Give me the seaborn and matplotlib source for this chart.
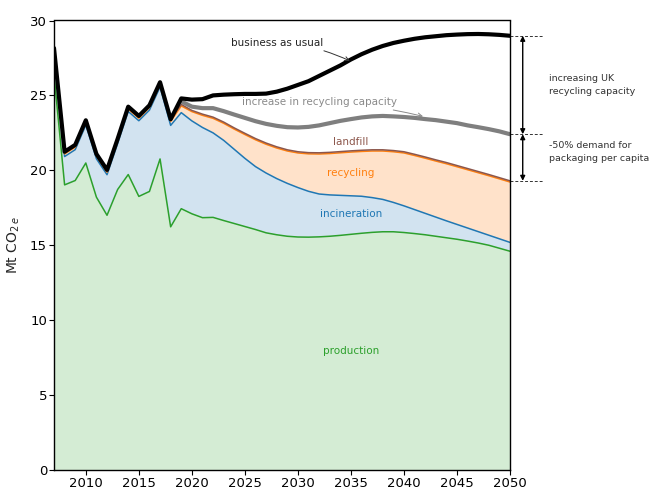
import numpy as np
import pandas as pd
import matplotlib
matplotlib.use("Agg")
import matplotlib.pyplot as plt
import seaborn as sns

years = list(range(2007, 2051))

# stacked levels (Mt CO2e)
production = [26.4, 19.03, 19.32, 20.49, 18.21, 17.0, 18.72, 19.72, 18.26, 18.59, 20.76, 16.23, 17.44,
              17.1, 16.84, 16.86, 16.65, 16.45, 16.25, 16.05, 15.83, 15.7, 15.6, 15.55, 15.54, 15.56,
              15.6, 15.66, 15.73, 15.8, 15.86, 15.9, 15.9, 15.85, 15.78, 15.7, 15.6, 15.5, 15.4,
              15.28, 15.15, 15.0, 14.8, 14.6]
incineration_top = [27.84, 20.92, 21.38, 23.02, 20.77, 19.71, 21.78, 23.93, 23.31, 24.02, 25.56, 23.0, 23.85,
                    23.3, 22.86, 22.5, 22.0, 21.4, 20.8, 20.25, 19.82, 19.45, 19.13, 18.85, 18.6, 18.42,
                    18.36, 18.33, 18.3, 18.27, 18.18, 18.06, 17.86, 17.63, 17.38, 17.13, 16.88, 16.63, 16.39,
                    16.15, 15.91, 15.67, 15.43, 15.19]
recycling_top = [28.0, 21.1, 21.55, 23.2, 20.95, 19.88, 21.95, 24.1, 23.48, 24.2, 25.73, 23.27, 24.3,
                 23.92, 23.67, 23.47, 23.14, 22.75, 22.39, 22.04, 21.74, 21.49, 21.29, 21.16, 21.1, 21.09,
                 21.12, 21.17, 21.22, 21.26, 21.29, 21.29, 21.24, 21.16, 20.99, 20.81, 20.62, 20.44, 20.24,
                 20.04, 19.84, 19.64, 19.43, 19.22]
landfill_top = [28.16, 21.24, 21.7, 23.34, 21.09, 20.03, 22.1, 24.25, 23.63, 24.34, 25.88, 23.41, 24.4,
                24.0, 23.75, 23.55, 23.22, 22.83, 22.47, 22.12, 21.82, 21.57, 21.37, 21.24, 21.18, 21.17,
                21.2, 21.25, 21.3, 21.34, 21.37, 21.37, 21.32, 21.24, 21.07, 20.89, 20.7, 20.52, 20.32,
                20.12, 19.92, 19.72, 19.51, 19.3]
business_as_usual = [28.16, 21.24, 21.7, 23.34, 21.09, 20.03, 22.1, 24.25, 23.63, 24.34, 25.88, 23.41, 24.8,
                     24.72, 24.75, 25.0, 25.05, 25.08, 25.1, 25.1, 25.12, 25.25, 25.45, 25.7, 25.95, 26.3,
                     26.65, 27.0, 27.4, 27.75, 28.05, 28.3, 28.5, 28.65, 28.78, 28.88, 28.95, 29.02, 29.06,
                     29.09, 29.1, 29.08, 29.04, 28.98]
capacity_years = list(range(2019, 2051))
recycling_capacity = [24.6, 24.25, 24.15, 24.15, 23.95, 23.72, 23.5, 23.28, 23.1, 22.97, 22.88, 22.86,
                      22.9, 23.0, 23.15, 23.3, 23.42, 23.53, 23.6, 23.63, 23.6, 23.56, 23.5, 23.42,
                      23.35, 23.25, 23.15, 23.0, 22.88, 22.75, 22.6, 22.41]

sns.set_style("ticks")
plt.rcParams['font.family'] = ['DejaVu Sans']

fig = plt.figure(figsize=(6.51, 4.91), dpi=100)
bottom_px, top_px = 470.0, 20.5
ax = fig.add_axes([54/651, (491-bottom_px)/491, (510-54)/651, (bottom_px-top_px)/491])

C = sns.color_palette("tab10")
green, blue, orange, brown, gray = C[2], C[0], C[1], C[5], C[7]

ax.fill_between(years, 0, production, color=green, alpha=0.2, lw=0)
ax.fill_between(years, production, incineration_top, color=blue, alpha=0.2, lw=0)
ax.fill_between(years, incineration_top, recycling_top, color=orange, alpha=0.22, lw=0)
ax.fill_between(years, recycling_top, landfill_top, color=brown, alpha=0.2, lw=0)

sns.lineplot(x=years, y=production, color=green, lw=1.1, ax=ax)
sns.lineplot(x=years, y=incineration_top, color=blue, lw=1.1, ax=ax)
sns.lineplot(x=years, y=recycling_top, color=orange, lw=1.1, ax=ax)
sns.lineplot(x=years, y=landfill_top, color=brown, lw=1.1, ax=ax)
sns.lineplot(x=capacity_years, y=recycling_capacity, color=gray, lw=3, ax=ax)
sns.lineplot(x=years, y=business_as_usual, color='black', lw=3, ax=ax)

ax.set_xlim(2007, 2050)
ax.set_ylim(0, 30)
ax.set_xticks(range(2010, 2051, 5))
ax.set_yticks(range(0, 31, 5))
ax.tick_params(labelsize=9.5, length=3.5, width=0.8, colors='black', pad=1.5)
for s in ax.spines.values():
    s.set_visible(True)
    s.set_linewidth(1.0)
    s.set_color('black')
ax.set_ylabel(r"Mt CO$_{2\,e}$", fontsize=10, labelpad=6)
ax.set_xlabel("")

fs = 7.5
ax.annotate("business as usual", xy=(2034.9, 27.3), xytext=(2028.0, 28.53),
            ha='center', va='center', fontsize=fs, color='#222222',
            arrowprops=dict(arrowstyle='->', color='#333333', lw=0.7,
                            connectionstyle='arc3,rad=-0.1', shrinkA=28, shrinkB=0))
ax.annotate("increase in recycling capacity", xy=(2041.8, 23.6), xytext=(2032.05, 24.58),
            ha='center', va='center', fontsize=fs, color='#8a8a8a',
            arrowprops=dict(arrowstyle='->', color='#8a8a8a', lw=0.7,
                            connectionstyle='arc3,rad=-0.05', shrinkA=78, shrinkB=0))
ax.text(2035.0, 21.86, "landfill", ha='center', va='center', fontsize=fs, color=brown)
ax.text(2035.0, 19.8, "recycling", ha='center', va='center', fontsize=fs, color=orange)
ax.text(2035.0, 17.06, "incineration", ha='center', va='center', fontsize=fs, color=blue)
ax.text(2035.0, 7.94, "production", ha='center', va='center', fontsize=fs, color=green)

# right-hand annotations
levels = [business_as_usual[-1], recycling_capacity[-1], landfill_top[-1]]
for lv in levels:
    ax.plot([2050, 2053.1], [lv, lv], ls=(0, (3, 2)), color='#333333', lw=0.7, clip_on=False)
xa = 2051.2
for a, b in [(levels[0], levels[1]), (levels[1], levels[2])]:
    ax.annotate("", xy=(xa, b), xytext=(xa, a), xycoords='data',
                arrowprops=dict(arrowstyle='<|-|>', color='black', lw=1.0,
                                mutation_scale=7, shrinkA=0, shrinkB=0),
                annotation_clip=False)
ax.text(2053.7, 25.7, "increasing UK\nrecycling capacity", ha='left', va='center',
        fontsize=6.8, color='#333333', linespacing=1.55, clip_on=False)
ax.text(2053.7, 21.2, "-50% demand for\npackaging per capita", ha='left', va='center',
        fontsize=6.8, color='#333333', linespacing=1.55, clip_on=False)

fig.savefig("out.png", dpi=100)
